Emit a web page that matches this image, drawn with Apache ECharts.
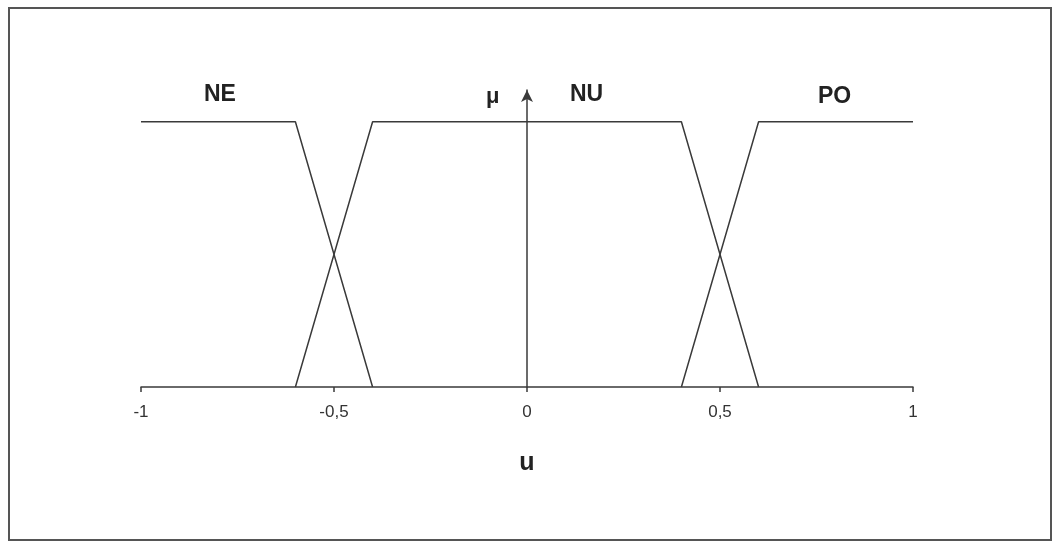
<!DOCTYPE html>
<html>
<head>
<meta charset="utf-8">
<script src="https://cdn.jsdelivr.net/npm/echarts@6/dist/echarts.min.js"></script>
<style>
  html, body { margin: 0; padding: 0; background: #fff; }
  #chart { width: 1053px; height: 542px; }
</style>
</head>
<body>
<div id="chart"></div>
<script>
// membership functions, [u, mu] corner points
const neData = [[-1, 1], [-0.6, 1], [-0.4, 0]];
const nuData = [[-0.6, 0], [-0.4, 1], [0.4, 1], [0.6, 0]];
const poData = [[0.4, 0], [0.6, 1], [1, 1]];
const tickValues = [-1, -0.5, 0, 0.5, 1];
const setNames = ['NE', 'NU', 'PO'];

const myChart = echarts.init(document.getElementById('chart'));
const lineColor = '#3a3a3a';
const font = 'Liberation Sans, Arial, sans-serif';

const mkLine = (name, data) => ({
  name: name,
  type: 'line',
  data: data,
  symbol: 'none',
  lineStyle: { color: lineColor, width: 1.5 },
  z: 3
});

const option = {
  backgroundColor: '#fff',
  animation: false,
  grid: { left: 141, right: 140, top: 90, bottom: 155 },
  xAxis: {
    type: 'value',
    min: -1,
    max: 1,
    interval: 0.5,
    name: 'u',
    nameLocation: 'middle',
    nameGap: 64,
    nameTextStyle: { fontFamily: font, fontSize: 25, fontWeight: 'bold', color: '#222' },
    splitLine: { show: false },
    axisLine: { lineStyle: { color: lineColor, width: 1.5 } },
    axisTick: { length: 5, lineStyle: { color: lineColor, width: 1.5 } },
    axisLabel: {
      fontFamily: font,
      fontSize: 17,
      color: '#333',
      margin: 17,
      formatter: v => (tickValues.indexOf(v) >= 0 ? String(v).replace('.', ',') : '')
    }
  },
  yAxis: {
    type: 'value',
    min: 0,
    max: 1.12,
    splitLine: { show: false },
    axisLabel: { show: false },
    axisTick: { show: false },
    axisLine: {
      show: true,
      onZero: true,
      symbol: ['none', 'arrow'],
      symbolSize: [9, 12],
      lineStyle: { color: lineColor, width: 1.5 }
    }
  },
  graphic: [
    {
      type: 'rect',
      shape: { x: 9, y: 8, width: 1042, height: 532 },
      style: { fill: 'none', stroke: '#555', lineWidth: 2 }
    },
    { type: 'text', left: 204, top: 83, style: { text: setNames[0], font: 'bold 23px ' + font, fill: '#222' } },
    { type: 'text', left: 570, top: 83, style: { text: setNames[1], font: 'bold 23px ' + font, fill: '#222' } },
    { type: 'text', left: 818, top: 85, style: { text: setNames[2], font: 'bold 23px ' + font, fill: '#222' } },
    { type: 'text', left: 486, top: 86, style: { text: 'μ', font: 'bold 22px ' + font, fill: '#222' } }
  ],
  series: [
    mkLine(setNames[0], neData),
    mkLine(setNames[1], nuData),
    mkLine(setNames[2], poData)
  ]
};

myChart.setOption(option);
</script>
</body>
</html>
